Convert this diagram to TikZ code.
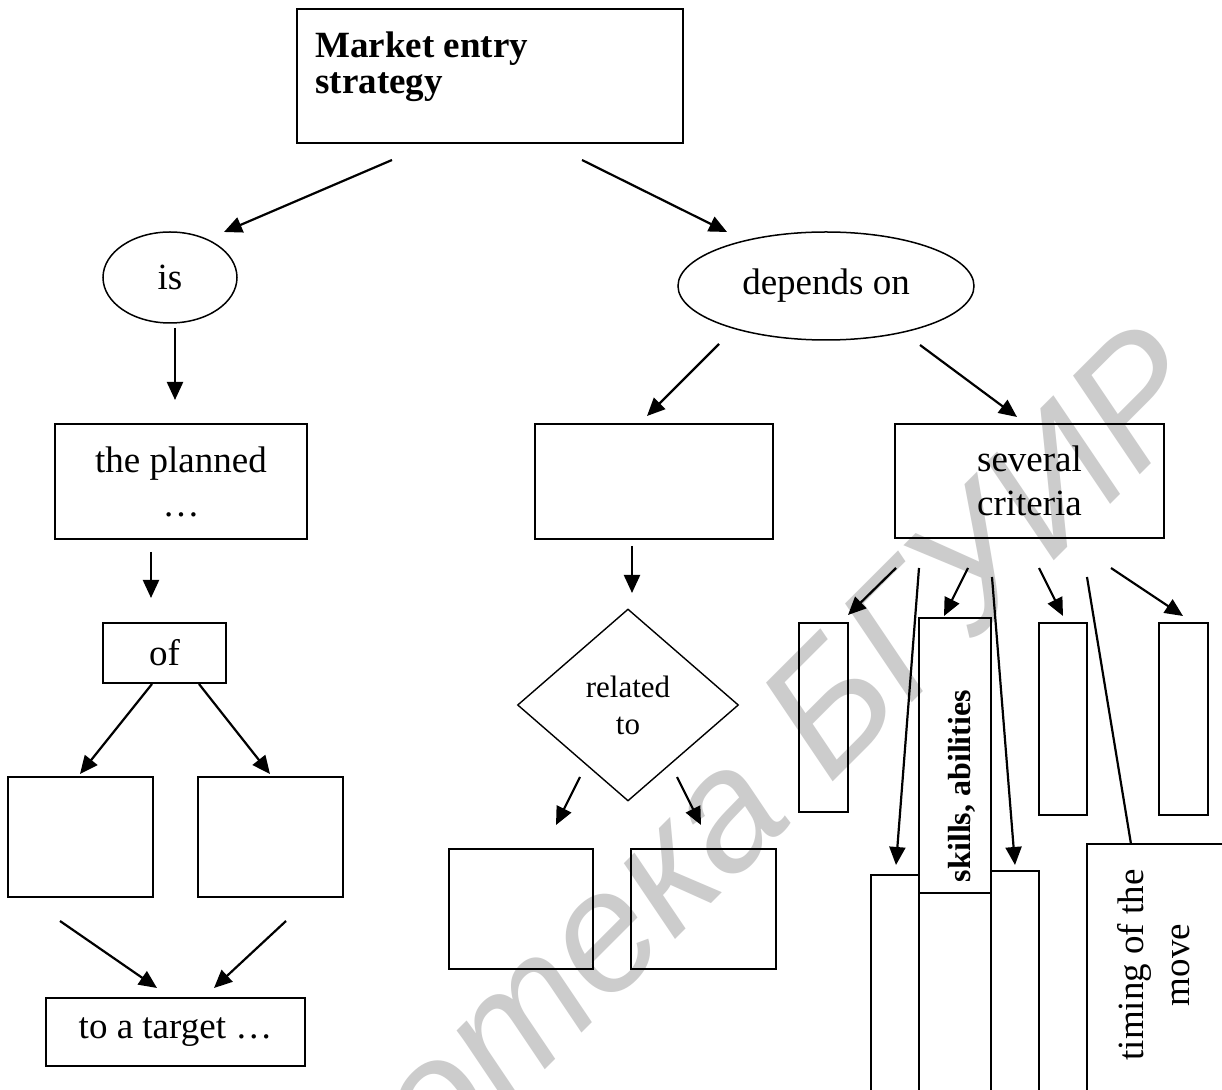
\documentclass[tikz,border=0pt]{standalone}
\usepackage{fontspec}
\setmainfont{Liberation Serif}
\newfontfamily\wmfont{Liberation Sans}
\usetikzlibrary{shapes.geometric,arrows.meta}
\newcommand\mainfs{\fontsize{18.5}{22}\selectfont}
\newcommand\topfs{\fontsize{18.5}{18}\selectfont}
\newcommand\relfs{\fontsize{15.5}{18.5}\selectfont}
\newcommand\skfs{\fontsize{16}{18}\selectfont}
\newcommand\timfs{\fontsize{18.5}{23}\selectfont}
\begin{document}
\begin{tikzpicture}[x=0.5pt,y=-0.5pt,
  box/.style={draw, rectangle, line width=1pt, inner sep=0pt, font=\mainfs, align=center},
  oval/.style={draw, ellipse, line width=0.75pt, inner sep=0pt, font=\mainfs},
  dia/.style={draw, diamond, line width=0.7pt, inner sep=0pt, font=\relfs, align=center},
  arr/.style={line width=1.1pt, -{Triangle[length=9pt,width=8pt]}},
  plain/.style={line width=1.1pt},
  wm/.style={text=black!20, font=\wmfont\itshape\fontsize{85}{85}\selectfont, inner sep=0pt, rotate=45}
]
\useasboundingbox (0,0) rectangle (1222,1090);
\clip (0,0) rectangle (1222,1090);
\fill[white] (0,0) rectangle (1222,1090);

% watermark
\node[wm, anchor=base east] (wmark) at (1217,398) {Библиотека БГУИР};

% top
\node[box, minimum width=193pt, minimum height=67pt] (top) at (490,76) {};
\node[anchor=north west, inner sep=0pt, align=left, font=\bfseries\topfs] (toptxt) at (315,31) {Market entry\\strategy};

% second level
\node[oval, minimum width=67pt, minimum height=45.5pt] (is) at (170,277.5) {is};
\node[oval, minimum width=148pt, minimum height=54pt] (dep) at (826,286) {depends on};

% left column
\node[box, minimum width=126pt, minimum height=57.5pt] (plan) at (181,481.5) {the planned\\…};
\node[box, minimum width=61.5pt, minimum height=30pt] (of) at (164.5,653) {of};
\node[box, minimum width=72.5pt, minimum height=60pt] (ofl) at (80.5,837) {};
\node[box, minimum width=72.5pt, minimum height=60pt] (ofr) at (270.5,837) {};
\node[box, minimum width=129.5pt, minimum height=34pt] (tgt) at (175.5,1032) {to a target …};

% middle column
\node[box, minimum width=119pt, minimum height=57.5pt] (mid) at (654,481.5) {};
\node[dia, minimum width=110.5pt, minimum height=96pt] (rel) at (628,705) {related\\to};
\node[box, minimum width=72pt, minimum height=60pt] (rell) at (521,909) {};
\node[box, minimum width=72.5pt, minimum height=60pt] (relr) at (703.5,909) {};

% right column
\node[box, minimum width=134.5pt, minimum height=57pt] (sev) at (1029.5,481) {several\\criteria};
\node[box, minimum width=24.5pt, minimum height=94.5pt] (c1) at (823.5,717.5) {};
\node[box, minimum width=24pt, minimum height=112.5pt] (c2) at (895,987.5) {};
\node[box, minimum width=36pt, minimum height=103.5pt] (c3) at (955,996.5) {};
\node[box, minimum width=36pt, minimum height=137.5pt] (skills) at (955,755.5) {};
\node[rotate=90, inner sep=0pt, font=\bfseries\skfs] (skilltxt) at (962,786) {skills, abilities};
\node[box, minimum width=24pt, minimum height=114.5pt] (c4) at (1015,985.5) {};
\node[box, minimum width=24pt, minimum height=96pt] (c5) at (1063,719) {};
\node[box, minimum width=76.5pt, minimum height=128pt] (timing) at (1163.5,972) {};
\node[rotate=90, inner sep=0pt, align=center, font=\timfs] (timtxt) at (1154,965) {timing of the\\move};
\node[box, minimum width=24.5pt, minimum height=96pt] (c6) at (1183.5,719) {};

% connector end points
\coordinate (a1s) at (392,160);  \coordinate (a1e) at (224,232);
\coordinate (a2s) at (582,160);  \coordinate (a2e) at (727,232);
\coordinate (a3s) at (175,328);  \coordinate (a3e) at (175,400);
\coordinate (a4s) at (151,552);  \coordinate (a4e) at (151,598);
\coordinate (a5s) at (152,684);  \coordinate (a5e) at (80,774);
\coordinate (a6s) at (199,684);  \coordinate (a6e) at (270,774);
\coordinate (a7s) at (60,921);   \coordinate (a7e) at (157,988);
\coordinate (a8s) at (286,921);  \coordinate (a8e) at (214,988);
\coordinate (a9s) at (719,344);  \coordinate (a9e) at (647,416);
\coordinate (a10s) at (920,345); \coordinate (a10e) at (1017,417);
\coordinate (a11s) at (632,546); \coordinate (a11e) at (632,593);
\coordinate (a12s) at (580,777); \coordinate (a12e) at (556,825);
\coordinate (a13s) at (677,777); \coordinate (a13e) at (701,825);
\coordinate (a14s) at (896,568); \coordinate (a14e) at (848,615);
\coordinate (a15s) at (919,568); \coordinate (a15e) at (896,865);
\coordinate (a16s) at (968,568); \coordinate (a16e) at (944,616);
\coordinate (a17s) at (992,577); \coordinate (a17e) at (1015,865);
\coordinate (a18s) at (1039,568);\coordinate (a18e) at (1063,616);
\coordinate (a19s) at (1087,577);\coordinate (a19e) at (1131,844);
\coordinate (a20s) at (1111,568);\coordinate (a20e) at (1183,616);

\draw[arr] (a1s) -- (a1e);
\draw[arr] (a2s) -- (a2e);
\draw[arr] (a3s) -- (a3e);
\draw[arr] (a4s) -- (a4e);
\draw[arr] (a5s) -- (a5e);
\draw[arr] (a6s) -- (a6e);
\draw[arr] (a7s) -- (a7e);
\draw[arr] (a8s) -- (a8e);
\draw[arr] (a9s) -- (a9e);
\draw[arr] (a10s) -- (a10e);
\draw[arr] (a11s) -- (a11e);
\draw[arr] (a12s) -- (a12e);
\draw[arr] (a13s) -- (a13e);
\draw[arr] (a14s) -- (a14e);
\draw[arr] (a15s) -- (a15e);
\draw[arr] (a16s) -- (a16e);
\draw[arr] (a17s) -- (a17e);
\draw[arr] (a18s) -- (a18e);
\draw[plain] (a19s) -- (a19e);
\draw[arr] (a20s) -- (a20e);
\end{tikzpicture}
\end{document}
